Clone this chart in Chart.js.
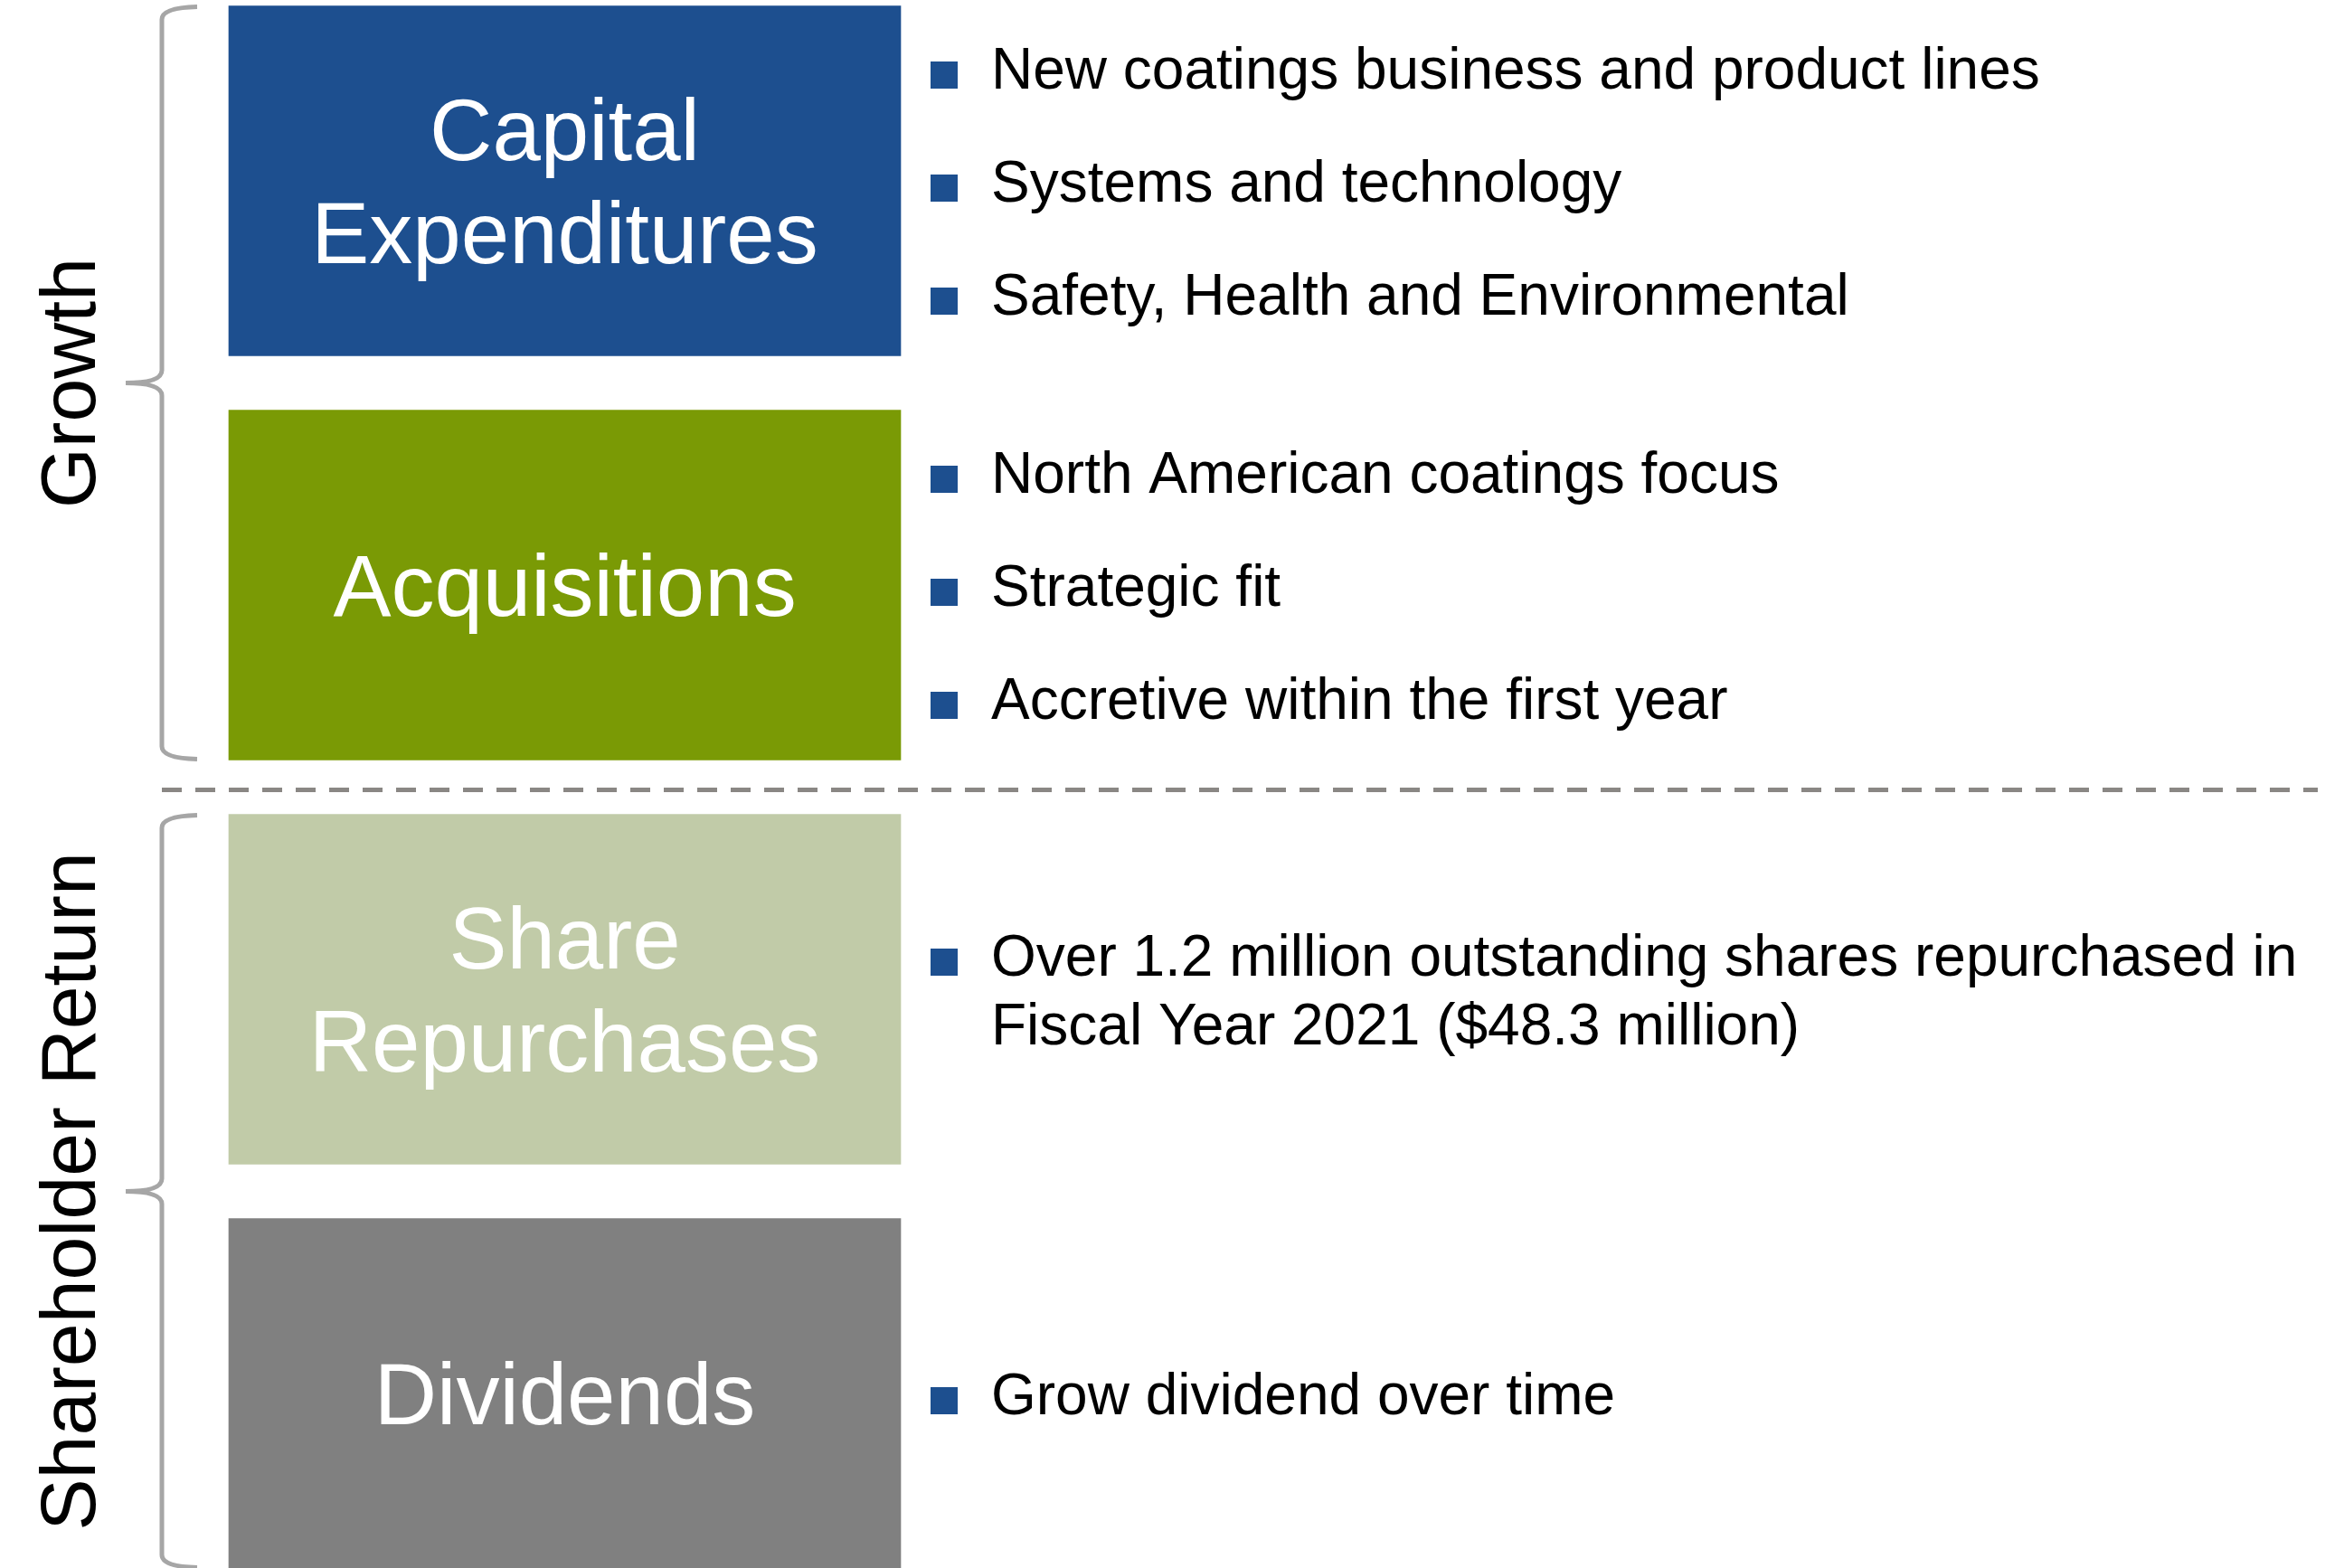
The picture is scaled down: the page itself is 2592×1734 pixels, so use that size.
<!DOCTYPE html>
<html>
<head>
<meta charset="utf-8">
<script src="https://cdn.jsdelivr.net/npm/chart.js@4/dist/chart.umd.min.js"></script>
<style>
  html, body { margin: 0; padding: 0; background: #ffffff; }
  #c { display: block; }
</style>
</head>
<body>
<canvas id="c" width="2592" height="1734"></canvas>
<script>
// ---- data ----
const categories = ["Capital Expenditures", "Acquisitions", "Share Repurchases", "Dividends"];
const boxLabelLines = [["Capital", "Expenditures"], ["Acquisitions"], ["Share", "Repurchases"], ["Dividends"]];
const boxColors = ["#1D4F8F", "#7A9A05", "#C1CBA8", "#808080"];
const bulletsCapex = ["New coatings business and product lines", "Systems and technology", "Safety, Health and Environmental"];
const bulletsAcq = ["North American coatings focus", "Strategic fit", "Accretive within the first year"];
const bulletsShare = [["Over 1.2 million outstanding shares repurchased in", "Fiscal Year 2021 ($48.3 million)"]];
const bulletsDiv = ["Grow dividend over time"];
const groupNames = ["Growth", "Shareholder Return"];
const groupFirst = [0, 2];
const groupLast = [1, 3];
const spans = [[0, 1], [0, 1], [0, 1], [0, 1]];

const bulletsByBox = [bulletsCapex, bulletsAcq, bulletsShare, bulletsDiv];

const FONT = '"Liberation Sans", Arial, Helvetica, sans-serif';

const diagramPlugin = {
  id: 'diagram',
  afterDatasetsDraw(chart) {
    const ctx = chart.ctx;
    const meta = chart.getDatasetMeta(0);
    const els = meta.data.map(e => e.getProps(['x', 'y', 'base', 'height'], true));
    ctx.save();

    // box labels
    ctx.fillStyle = '#ffffff';
    ctx.font = '96px ' + FONT;
    ctx.textAlign = 'center';
    ctx.textBaseline = 'alphabetic';
    const capH = 96 * 0.716;
    els.forEach((e, i) => {
      const cx = (e.x + e.base) / 2;
      const lines = boxLabelLines[i];
      const n = lines.length;
      lines.forEach((t, j) => {
        ctx.fillText(t, cx, e.y + capH / 2 + (j - (n - 1) / 2) * 114);
      });
    });

    // bullets
    ctx.textAlign = 'left';
    ctx.font = '64px ' + FONT;
    els.forEach((e, i) => {
      const right = Math.max(e.x, e.base);
      const items = bulletsByBox[i];
      const rows = [];
      items.forEach(it => {
        const ls = Array.isArray(it) ? it : [it];
        ls.forEach((l, k) => rows.push({ text: l, first: k === 0, gapBefore: k === 0 ? 125 : 76 }));
      });
      let offs = [0];
      for (let r = 1; r < rows.length; r++) offs.push(offs[r - 1] + rows[r].gapBefore);
      const total = offs[offs.length - 1];
      rows.forEach((row, r) => {
        const base = e.y + 23 + offs[r] - total / 2;
        if (row.first) {
          ctx.fillStyle = '#1D4F8F';
          ctx.fillRect(right + 33, base - 30, 30, 30);
        }
        ctx.fillStyle = '#000000';
        ctx.fillText(row.text, right + 100, base);
      });
    });

    // brackets and group labels
    const left = Math.min(els[0].x, els[0].base);
    const vx = left - 74, ex = left - 35, tipx = left - 114;
    groupNames.forEach((name, g) => {
      const a = els[groupFirst[g]], b = els[groupLast[g]];
      const top = a.y - a.height / 2 + 1;
      const bot = b.y + b.height / 2 - 1;
      const mid = (top + bot) / 2;
      ctx.strokeStyle = '#A6A6A6';
      ctx.lineWidth = 5;
      ctx.lineCap = 'butt';
      ctx.lineJoin = 'round';
      ctx.beginPath();
      ctx.moveTo(ex, top);
      ctx.quadraticCurveTo(vx, top + 1, vx, top + 14);
      ctx.lineTo(vx, mid - 14);
      ctx.quadraticCurveTo(vx, mid, tipx, mid);
      ctx.moveTo(tipx, mid);
      ctx.quadraticCurveTo(vx, mid, vx, mid + 14);
      ctx.lineTo(vx, bot - 14);
      ctx.quadraticCurveTo(vx, bot - 1, ex, bot);
      ctx.stroke();

      ctx.save();
      ctx.translate(left - 148, mid);
      ctx.rotate(-Math.PI / 2);
      ctx.fillStyle = '#000000';
      ctx.font = '86px ' + FONT;
      ctx.textAlign = 'center';
      ctx.textBaseline = 'alphabetic';
      ctx.fillText(name, 0, 0);
      ctx.restore();
    });

    // dashed separator between groups
    const upper = els[groupLast[0]], lower = els[groupFirst[1]];
    const sepY = ((upper.y + upper.height / 2) + (lower.y - lower.height / 2)) / 2 + 3;
    ctx.strokeStyle = '#8A8784';
    ctx.lineWidth = 5;
    ctx.setLineDash([22, 15]);
    ctx.beginPath();
    ctx.moveTo(vx, sepY);
    ctx.lineTo(chart.width - 29, sepY);
    ctx.stroke();
    ctx.setLineDash([]);

    ctx.restore();
  }
};

new Chart(document.getElementById('c'), {
  type: 'bar',
  data: {
    labels: categories,
    datasets: [{
      data: spans,
      backgroundColor: boxColors,
      borderWidth: 0,
      barThickness: 387,
      clip: false
    }]
  },
  options: {
    indexAxis: 'y',
    responsive: false,
    animation: false,
    devicePixelRatio: 1,
    layout: { padding: { left: 253, right: 1596, top: 200, bottom: 193 } },
    scales: {
      x: { type: 'linear', min: 0, max: 1, display: false },
      y: { type: 'category', offset: false, display: false }
    },
    plugins: { legend: { display: false }, tooltip: { enabled: false } }
  },
  plugins: [diagramPlugin]
});
</script>
</body>
</html>
